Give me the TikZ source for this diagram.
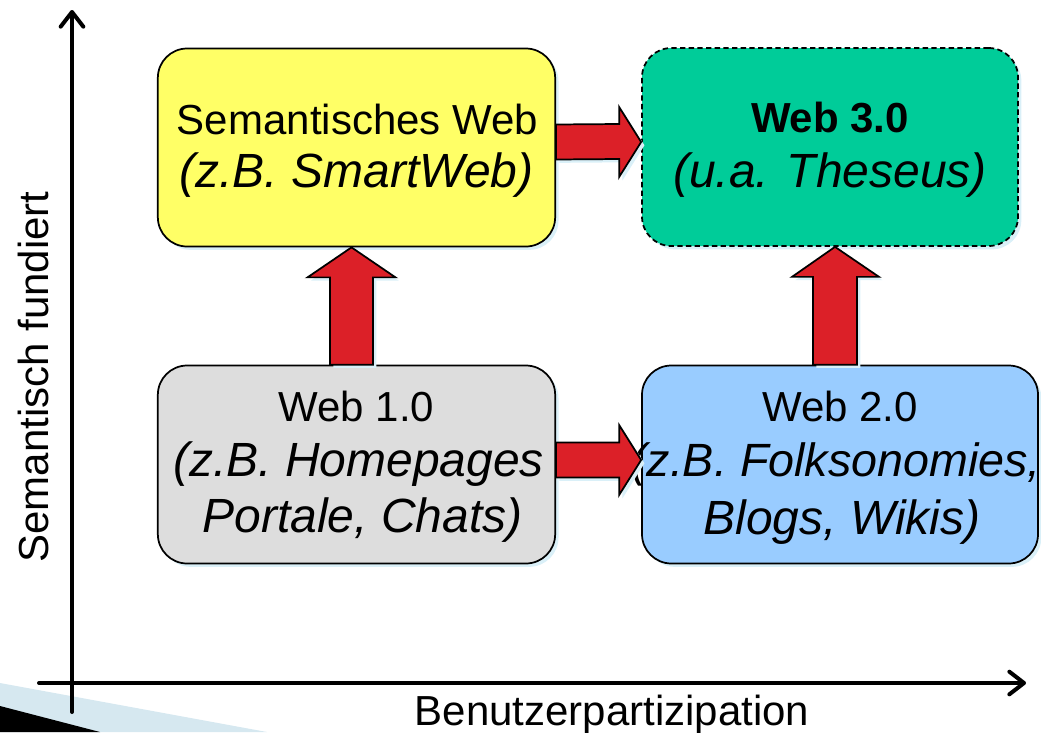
\documentclass[tikz,border=0pt]{standalone}
\usepackage{fontspec}
\setmainfont{Liberation Sans}
\usetikzlibrary{calc,shadows,arrows.meta}

\definecolor{boxyellow}{RGB}{255,255,102}
\definecolor{boxgreen}{RGB}{0,204,153}
\definecolor{boxgray}{RGB}{221,221,221}
\definecolor{boxblue}{RGB}{153,204,255}
\definecolor{arrowred}{RGB}{220,32,40}
\definecolor{shadowblue}{RGB}{218,240,248}
\definecolor{wedgeblue}{RGB}{214,232,240}

\tikzset{
  softshadow/.style={drop shadow={shadow xshift=2.5pt, shadow yshift=-2.5pt,
      fill=shadowblue, opacity=1}},
  webbox/.style={rectangle, rounded corners=22pt, draw=black, line width=1.3pt,
      inner sep=0pt, minimum height=148.5pt, softshadow},
  plainline/.style={font=\fontsize{31.5}{38}\selectfont, inner sep=0pt, anchor=base},
  boldline/.style={font=\fontsize{31.5}{38}\selectfont\bfseries, inner sep=0pt, anchor=base},
  noteline/.style={font=\fontsize{36}{43}\selectfont\itshape, inner sep=0pt, anchor=base},
  redarrow/.style={fill=arrowred, draw=black, line width=1.3pt, line join=miter, softshadow},
  axis/.style={line width=3pt, line cap=round,
      -{Straight Barb[length=11pt, width=17pt, line width=3pt, line cap=round, line join=round]}},
}

\begin{document}
\begin{tikzpicture}[x=0.75pt, y=-0.75pt]
\useasboundingbox (0,0) rectangle (1041,732);

% corner ornament
\fill[wedgeblue] (0,683) -- (267,732) -- (0,732) -- cycle;
\fill[black] (0,706) -- (100,732) -- (0,732) -- cycle;

% axes
\coordinate (ybot) at (72,712);
\coordinate (ytop) at (72,10);
\coordinate (xleft) at (39,683);
\coordinate (xright) at (1026,683);
\draw[axis] (ybot) -- (ytop);
\draw[axis] (xleft) -- (xright);

\node[plainline, rotate=90] (ylabel) at (48,377) {Semantisch fundiert};
\node[plainline] (xlabel) at (612,725) {Benutzerpartizipation};

% the four stages
\node[webbox, fill=boxyellow, minimum width=298pt] (sw) at (356.5,147.5) {};
\node[webbox, fill=boxgreen, minimum width=282pt, dashed,
      dash pattern=on 4pt off 2.5pt] (w3) at (830,147) {};
\node[webbox, fill=boxgray, minimum width=298pt] (w1) at (356.5,464.5) {};
\node[webbox, fill=boxblue, minimum width=297pt] (w2) at (840,464.5) {};

\node[plainline] (sw-a) at ($(sw.north)+(1,87)$) {Semantisches Web};
\node[noteline]  (sw-b) at ($(sw.north)+(0,140)$) {(z.B. SmartWeb)};

\node[boldline]  (w3-a) at ($(w3.north)+(0,85)$) {Web 3.0};
\node[noteline]  (w3-b) at ($(w3.north)+(0,140)$) {(u.a. Theseus)};

\node[plainline] (w1-a) at ($(w1.north)+(0,57)$) {Web 1.0};
\node[noteline]  (w1-b) at ($(w1.north)+(2,112)$) {(z.B. Homepages};
\node[noteline]  (w1-c) at ($(w1.north)+(6,168)$) {Portale, Chats)};

\node[plainline] (w2-a) at ($(w2.north)+(0,57)$) {Web 2.0};
\node[noteline, font=\fontsize{35}{43}\selectfont\itshape]
                 (w2-b) at ($(w2.north)+(-4,112)$) {(z.B. Folksonomies,};
\node[noteline]  (w2-c) at ($(w2.north)+(2,170)$) {Blogs, Wikis)};

% block arrows between the stages
\draw[redarrow] ($(sw.east)+(0,-23)$) -- ($(w3.west)+(-22,-23)$)
  -- ($(w3.west)+(-22,-40)$) -- ($(w3.west)+(0,-5)$)
  -- ($(w3.west)+(-22,30)$) -- ($(w3.west)+(-22,12)$)
  -- ($(sw.east)+(0,12)$) -- cycle;

\draw[redarrow] ($(w1.east)+(0,-22)$) -- ($(w2.west)+(-22,-22)$)
  -- ($(w2.west)+(-22,-39.5)$) -- ($(w2.west)+(0,-4.5)$)
  -- ($(w2.west)+(-22,30.5)$) -- ($(w2.west)+(-22,13)$)
  -- ($(w1.east)+(0,13)$) -- cycle;

\draw[redarrow] ($(w1.north)+(-26.5,0)$) -- ($(sw.south)+(-26.5,30)$)
  -- ($(sw.south)+(-49,30)$) -- ($(sw.south)+(-5,0)$)
  -- ($(sw.south)+(39,30)$) -- ($(sw.south)+(16.5,30)$)
  -- ($(w1.north)+(16.5,0)$) -- cycle;

\draw[redarrow] ($(w2.north)+(-27,0)$) -- ($(w3.south)+(-17,30)$)
  -- ($(w3.south)+(-38,30)$) -- ($(w3.south)+(5,0)$)
  -- ($(w3.south)+(49,30)$) -- ($(w3.south)+(27,30)$)
  -- ($(w2.north)+(17,0)$) -- cycle;

\end{tikzpicture}
\end{document}
